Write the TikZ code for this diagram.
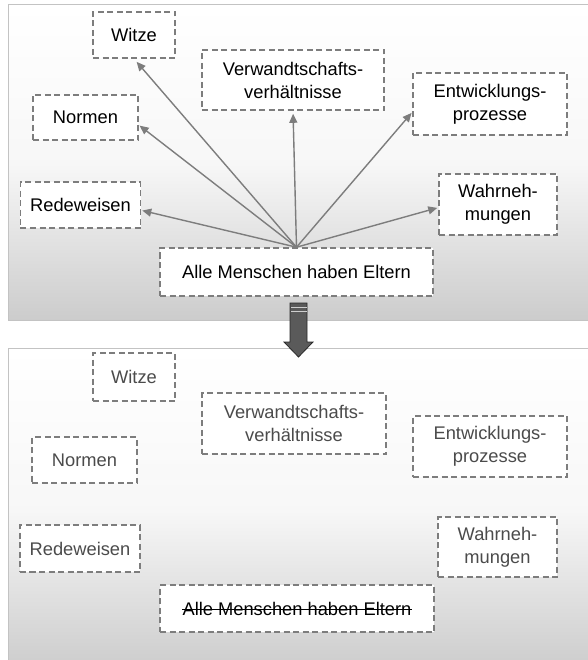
\documentclass[tikz,border=0pt]{standalone}
\usepackage{fontspec}
\setmainfont{Liberation Sans}
\usetikzlibrary{arrows.meta}
\definecolor{panelbot}{RGB}{204,204,204}
\definecolor{panelline}{RGB}{195,195,195}
\definecolor{dashcol}{RGB}{125,125,125}
\definecolor{arrcol}{RGB}{125,125,125}
\definecolor{faintext}{RGB}{75,75,75}
\definecolor{fatfill}{RGB}{90,90,90}
\definecolor{fatline}{RGB}{40,40,40}
\tikzset{
  box/.style={draw=dashcol, fill=white, line width=1.6bp,
    dash pattern=on 6bp off 3.5bp, align=center, inner sep=0pt,
    font=\fontsize{18.3bp}{23bp}\selectfont},
  box2/.style={box, text=faintext},
  plaintext/.style={inner sep=0pt, font=\fontsize{18.3bp}{23bp}\selectfont},
  strike/.style={draw=black, line width=1.1bp},
  link/.style={draw=arrcol, line width=1.4bp,
    -{Triangle[length=9bp,width=8bp]}},
  panel/.style={draw=panelline, line width=1bp, top color=white, bottom color=panelbot, middle color=white!85!panelbot}
}
\begin{document}
\begin{tikzpicture}[x=1bp,y=-1bp]
\clip (0,0) rectangle (588,660);
\fill[white] (0,0) rectangle (588,660);
% panels
\path[panel] (8,5) rectangle (600,320);
\path[panel] (8,348) rectangle (600,670);

% top panel nodes
\node[box, minimum width=82bp, minimum height=46bp] (w1) at (134,35) {Witze};
\node[box, minimum width=182bp, minimum height=60bp] (v1) at (293,80) {Verwandtschafts-\\verhältnisse};
\node[box, minimum width=154bp, minimum height=62bp] (e1) at (490,104) {Entwicklungs-\\prozesse};
\node[box, minimum width=105bp, minimum height=45bp] (n1) at (85.5,117.5) {Normen};
\node[box, minimum width=120bp, minimum height=46bp] (r1) at (80.5,205) {Redeweisen};
\node[box, minimum width=118bp, minimum height=61bp] (wa1) at (498,204.5) {Wahrneh-\\mungen};
\node[box, minimum width=273bp, minimum height=48bp] (a1) at (296.5,272) {Alle Menschen haben Eltern};

\draw[link, shorten >=4bp] (a1.north) -- (w1.south);
\draw[link, shorten >=3bp] (a1.north) -- (v1.south);
\draw[link, shorten >=1bp] (a1.north) -- (n1.-8);
\draw[link, shorten >=1bp] (a1.north) -- (r1.-5);
\draw[link, shorten >=1bp] (a1.north) -- (e1.186);
\draw[link, shorten >=1bp] (a1.north) -- (wa1.183);

% bottom panel nodes
\node[box2, minimum width=82bp, minimum height=48bp] (w2) at (134,377) {Witze};
\node[box2, minimum width=184bp, minimum height=61bp] (v2) at (294,423.5) {Verwandtschafts-\\verhältnisse};
\node[box2, minimum width=154bp, minimum height=61bp] (e2) at (490,446.5) {Entwicklungs-\\prozesse};
\node[box2, minimum width=105bp, minimum height=46bp] (n2) at (84.5,460) {Normen};
\node[box2, minimum width=120bp, minimum height=47bp] (r2) at (80,548.5) {Redeweisen};
\node[box2, minimum width=119bp, minimum height=60bp] (wa2) at (497.5,547) {Wahrneh-\\mungen};
\node[box, minimum width=274bp, minimum height=47bp] (a2) at (297,608.5) {};
\node[plaintext] (a2t) at (a2.center) {Alle Menschen haben Eltern};
\draw[strike] ([yshift=5.5bp]a2t.base west) -- ([yshift=5.5bp]a2t.base east);

% fat arrow between panels
\draw[fill=fatfill, draw=fatline, line width=0.8bp]
  (290,303) -- (307,303) -- (307,342) -- (313,342) -- (298.5,357) -- (284,342) -- (290,342) -- cycle;
\fill[white!70!fatfill] (290.5,306.5) rectangle (306.5,307.8);
\fill[white!70!fatfill] (290.5,310.5) rectangle (306.5,311.8);
\end{tikzpicture}
\end{document}
